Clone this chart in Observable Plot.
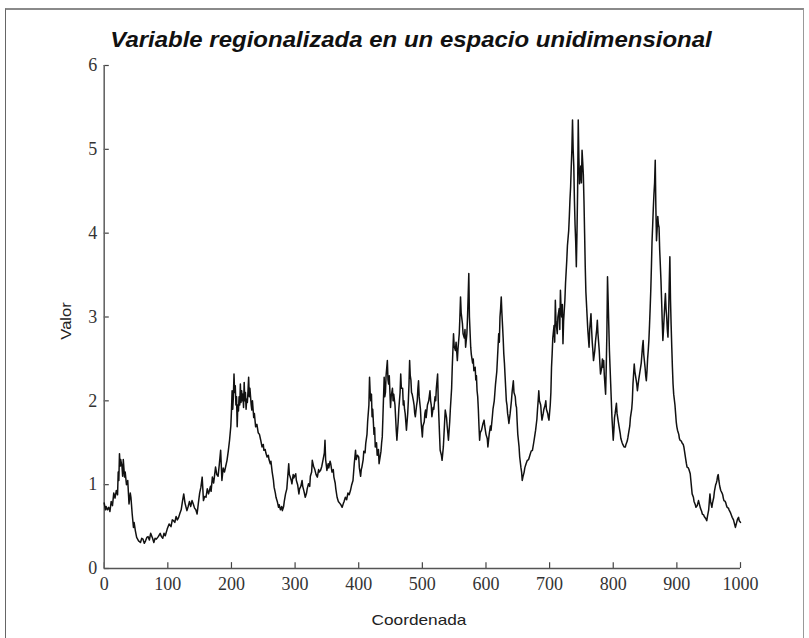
<!DOCTYPE html>
<html>
<head>
<meta charset="utf-8">
<script src="https://cdn.jsdelivr.net/npm/d3@7"></script>
<script src="https://cdn.jsdelivr.net/npm/@observablehq/plot@0.6"></script>
<style>
  html, body { margin: 0; padding: 0; background: #fff; }
  #wrap { position: relative; width: 809px; height: 638px; overflow: hidden; background: #fff; }
  #frame { position: absolute; left: 5px; top: 8px; width: 797px; height: 700px;
           border-top: 2px solid #8a8a8a; border-left: 1px solid #666; border-right: 1px solid #999; }
  #title { position: absolute; left: 0; width: 822px; top: 27px; text-align: center;
           font: italic bold 22px "Liberation Sans", Arial, sans-serif; color: #111;
           transform: scaleX(1.09); transform-origin: 411px 0; white-space: nowrap; }
  .lab { position: absolute; font: 15px "Liberation Sans", Arial, sans-serif; color: #222; white-space: nowrap; }
  #xlab { left: 419px; top: 611px; transform: translateX(-50%) scaleX(1.15); }
  #ylab { left: 65px; top: 321px; transform: translate(-50%, -50%) rotate(-90deg) scaleX(1.1); }
  #wrap svg { position: absolute; left: 0; top: 0; }
</style>
</head>
<body>
<div id="wrap">
  <div id="frame"></div>
  <div id="title">Variable regionalizada en un espacio unidimensional</div>
  <div class="lab" id="xlab">Coordenada</div>
  <div class="lab" id="ylab">Valor</div>
</div>
<script>
// [coordenada, valor] pairs
const serie = [
[0,0.78],[2,0.70],[3,0.74],[5,0.70],[7,0.73],[9,0.68],[11,0.80],[13,0.75],[15,0.90],[17,0.84],[19,0.93],[21,0.88],[22,1.15],[23,1.05],[24,1.37],[25,1.22],[26,1.30],[28,1.21],[29,1.10],[30,1.30],[32,1.09],[33,1.15],[35,1.00],[37,1.05],[39,0.77],[41,0.90],[42,0.85],[44,0.65],[46,0.49],[47,0.55],[49,0.45],[51,0.37],[54,0.33],[57,0.31],[59,0.36],[61,0.35],[63,0.30],[65,0.33],[67,0.37],[69,0.38],[71,0.34],[73,0.42],[76,0.36],[78,0.31],[80,0.36],[82,0.35],[85,0.38],[88,0.42],[90,0.38],[92,0.36],[94,0.42],[96,0.39],[99,0.47],[102,0.53],[105,0.50],[107,0.58],[109,0.57],[111,0.55],[113,0.62],[115,0.58],[117,0.61],[119,0.66],[121,0.70],[123,0.80],[125,0.89],[127,0.78],[130,0.69],[132,0.74],[134,0.80],[136,0.74],[138,0.81],[140,0.77],[142,0.72],[144,0.70],[146,0.65],[148,0.78],[150,0.90],[152,0.97],[154,1.09],[156,0.81],[158,0.86],[160,0.85],[162,0.95],[164,0.89],[167,0.98],[168,0.92],[170,1.09],[172,1.02],[173,1.08],[175,1.21],[177,1.12],[179,1.10],[181,1.25],[183,1.41],[185,1.05],[187,1.20],[189,1.15],[191,1.22],[193,1.29],[195,1.40],[197,1.53],[199,1.70],[200,1.88],[201,2.12],[202,1.90],[203,2.05],[204,2.32],[205,2.10],[206,2.18],[207,1.95],[208,2.05],[209,1.69],[210,1.95],[211,1.88],[212,2.05],[213,1.95],[214,2.20],[215,1.98],[216,2.12],[217,2.00],[218,2.08],[219,1.92],[220,2.22],[221,2.00],[222,2.10],[223,1.90],[224,2.02],[225,1.98],[226,2.12],[227,2.28],[228,2.05],[229,2.15],[230,2.05],[231,1.95],[232,1.89],[233,2.00],[234,1.90],[235,1.80],[236,1.85],[238,1.69],[240,1.72],[242,1.62],[244,1.60],[246,1.53],[248,1.45],[250,1.48],[251,1.41],[253,1.42],[254,1.38],[256,1.33],[258,1.35],[259,1.30],[261,1.25],[262,1.28],[264,1.15],[266,1.05],[267,0.97],[269,0.90],[270,0.85],[272,0.80],[274,0.73],[275,0.76],[277,0.70],[279,0.74],[280,0.69],[282,0.74],[283,0.80],[285,0.89],[287,0.95],[288,1.05],[290,1.25],[291,1.12],[292,1.10],[294,1.05],[295,1.01],[297,1.12],[298,1.08],[301,1.13],[302,1.05],[304,1.00],[306,0.89],[307,0.95],[309,0.98],[311,1.05],[312,0.98],[314,0.92],[316,0.85],[318,0.90],[319,0.95],[321,1.01],[323,0.98],[324,1.10],[326,1.15],[327,1.29],[329,1.22],[331,1.18],[333,1.12],[335,1.09],[337,1.18],[338,1.15],[340,1.17],[342,1.22],[344,1.30],[346,1.38],[347,1.53],[348,1.30],[350,1.17],[352,1.25],[353,1.20],[355,1.28],[356,1.25],[358,1.15],[360,1.18],[361,1.09],[363,1.02],[364,0.95],[366,0.85],[368,0.80],[370,0.78],[372,0.76],[374,0.73],[376,0.78],[377,0.80],[379,0.85],[381,0.82],[383,0.90],[385,0.88],[387,0.93],[389,1.00],[391,1.05],[393,1.25],[395,1.41],[396,1.30],[398,1.35],[400,1.33],[401,1.20],[403,1.10],[404,1.18],[405,1.21],[407,1.30],[408,1.40],[410,1.38],[411,1.49],[413,1.60],[414,1.75],[416,1.95],[417,2.28],[418,2.10],[419,2.00],[420,2.08],[421,1.81],[422,1.90],[424,1.60],[425,1.68],[426,1.45],[428,1.50],[429,1.35],[431,1.42],[432,1.25],[434,1.35],[435,1.40],[436,1.50],[437,1.57],[438,1.80],[440,2.28],[441,2.05],[442,2.10],[443,2.30],[445,2.48],[446,2.25],[447,2.20],[448,2.30],[450,1.92],[451,2.05],[453,2.15],[454,2.00],[455,2.08],[457,1.95],[458,1.80],[459,1.65],[460,1.53],[462,1.75],[463,1.90],[465,2.10],[466,2.32],[467,2.15],[469,2.15],[470,1.95],[471,2.00],[472,1.90],[473,1.85],[474,1.75],[475,1.65],[477,1.85],[478,2.00],[479,2.20],[480,2.48],[481,2.30],[482,2.25],[483,2.10],[484,2.08],[486,2.00],[487,1.95],[488,1.85],[489,1.81],[491,1.95],[492,2.00],[493,2.15],[494,2.24],[495,2.05],[497,1.90],[498,1.75],[500,1.57],[501,1.70],[503,1.75],[504,1.85],[505,1.89],[506,1.80],[508,1.95],[510,2.00],[512,2.12],[513,2.00],[514,1.95],[515,1.81],[517,1.92],[518,1.90],[520,2.05],[521,2.00],[522,2.15],[524,2.32],[525,2.00],[526,1.80],[527,1.60],[528,1.41],[530,1.35],[531,1.29],[533,1.45],[534,1.60],[535,1.75],[536,1.89],[538,1.80],[539,1.70],[540,1.62],[541,1.53],[543,1.75],[544,1.90],[546,2.15],[547,2.40],[548,2.60],[549,2.80],[550,2.65],[552,2.60],[553,2.70],[555,2.48],[556,2.62],[558,2.80],[559,3.00],[560,3.24],[561,3.05],[563,2.92],[564,2.80],[566,2.75],[567,2.85],[568,2.64],[570,2.80],[571,3.00],[572,3.25],[573,3.52],[574,3.00],[576,2.64],[577,2.55],[579,2.45],[580,2.50],[581,2.36],[583,2.40],[584,2.25],[585,2.30],[586,2.12],[587,2.05],[588,1.90],[589,1.70],[590,1.53],[591,1.62],[593,1.65],[595,1.72],[597,1.77],[598,1.70],[600,1.60],[602,1.55],[603,1.45],[605,1.60],[607,1.70],[608,1.65],[610,1.81],[611,1.90],[613,2.00],[614,2.10],[615,2.20],[617,2.35],[618,2.50],[619,2.65],[620,2.80],[621,2.70],[622,3.00],[623,3.10],[624,3.24],[625,3.05],[626,2.90],[627,2.75],[628,2.56],[629,2.45],[630,2.30],[631,2.15],[632,2.00],[633,1.95],[634,1.85],[635,1.80],[636,1.73],[638,1.85],[640,2.00],[641,2.10],[643,2.24],[644,2.10],[646,2.05],[647,1.95],[648,1.92],[649,1.75],[650,1.60],[652,1.45],[653,1.33],[655,1.20],[656,1.15],[657,1.05],[658,1.09],[660,1.15],[661,1.20],[663,1.25],[665,1.29],[667,1.30],[669,1.35],[671,1.40],[673,1.41],[675,1.50],[676,1.55],[677,1.60],[678,1.65],[680,1.78],[681,1.90],[682,2.00],[683,2.12],[684,2.00],[686,1.95],[687,1.85],[688,1.77],[690,1.85],[691,1.90],[693,1.95],[694,2.00],[695,1.90],[697,1.85],[698,1.80],[699,1.77],[701,1.95],[702,2.10],[703,2.40],[704,2.56],[705,2.75],[707,2.90],[708,2.70],[709,3.20],[710,2.95],[712,2.80],[713,3.00],[715,3.10],[716,2.85],[717,3.32],[718,3.10],[719,3.00],[720,3.15],[721,2.68],[722,2.95],[724,3.20],[725,3.40],[727,3.68],[728,3.85],[730,4.03],[731,4.20],[732,4.40],[733,4.55],[734,4.79],[735,5.00],[736,5.35],[737,5.00],[738,4.80],[739,4.39],[740,4.10],[741,3.90],[742,3.60],[743,4.00],[744,4.50],[745,5.35],[746,4.90],[747,4.59],[748,4.70],[749,4.80],[750,4.60],[751,4.99],[752,4.85],[753,4.70],[754,4.39],[755,4.00],[756,3.60],[757,3.30],[759,3.00],[760,2.85],[762,2.64],[763,2.85],[765,3.04],[766,2.85],[767,2.70],[768,2.60],[769,2.48],[771,2.60],[772,2.70],[774,2.85],[775,2.96],[776,2.80],[778,2.60],[779,2.45],[780,2.32],[782,2.40],[783,2.50],[784,2.40],[785,2.48],[786,2.30],[788,2.08],[789,2.40],[790,2.80],[791,3.48],[792,3.20],[793,2.90],[794,2.60],[795,2.40],[796,2.20],[797,2.00],[798,1.80],[800,1.53],[801,1.65],[802,1.80],[803,1.85],[805,1.97],[806,1.85],[808,1.75],[809,1.70],[811,1.61],[812,1.55],[814,1.50],[815,1.48],[817,1.45],[819,1.45],[820,1.48],[822,1.52],[823,1.56],[824,1.61],[826,1.70],[827,1.80],[829,1.90],[830,2.00],[831,2.20],[833,2.44],[834,2.35],[836,2.25],[837,2.20],[838,2.12],[840,2.25],[841,2.30],[842,2.35],[843,2.40],[844,2.45],[845,2.55],[846,2.65],[847,2.72],[848,2.55],[850,2.40],[851,2.30],[852,2.24],[853,2.35],[854,2.50],[855,2.60],[856,2.72],[857,2.90],[858,3.10],[859,3.32],[860,3.60],[861,3.91],[862,4.10],[863,4.30],[864,4.47],[865,4.60],[866,4.87],[867,4.30],[868,3.91],[869,4.05],[870,4.20],[871,4.10],[872,4.07],[873,3.80],[875,3.44],[876,3.20],[877,2.95],[878,2.72],[879,2.85],[880,3.00],[881,3.15],[882,3.28],[883,3.10],[884,3.00],[885,2.85],[886,2.76],[887,3.00],[888,3.40],[889,3.72],[890,3.20],[891,2.90],[892,2.64],[893,2.40],[894,2.20],[895,2.08],[897,1.95],[898,1.85],[899,1.75],[900,1.69],[901,1.65],[903,1.60],[904,1.55],[905,1.53],[907,1.52],[908,1.50],[910,1.48],[911,1.45],[912,1.40],[914,1.30],[915,1.25],[916,1.21],[918,1.20],[919,1.18],[921,1.13],[922,1.05],[924,0.89],[926,0.85],[927,0.80],[929,0.76],[930,0.73],[932,0.75],[933,0.78],[934,0.81],[936,0.75],[937,0.72],[939,0.68],[940,0.65],[942,0.64],[943,0.62],[945,0.60],[947,0.57],[948,0.62],[950,0.70],[951,0.80],[952,0.89],[953,0.80],[955,0.73],[956,0.78],[958,0.85],[959,0.92],[961,1.00],[962,1.02],[963,1.05],[964,1.10],[965,1.12],[966,1.05],[967,1.00],[968,0.96],[969,0.93],[971,0.90],[972,0.88],[973,0.84],[974,0.81],[976,0.80],[977,0.78],[978,0.75],[979,0.73],[981,0.72],[982,0.70],[984,0.67],[985,0.65],[986,0.63],[987,0.61],[989,0.58],[990,0.55],[991,0.52],[992,0.49],[994,0.55],[995,0.58],[996,0.60],[997,0.61],[998,0.57],[1000,0.55]
];
const xTicks = [0,100,200,300,400,500,600,700,800,900,1000];
const yTicks = [0,1,2,3,4,5,6];

const data = serie.map(([c, v]) => ({c, v}));

const chart = Plot.plot({
  width: 809,
  height: 638,
  marginLeft: 103.7,
  marginRight: 69,
  marginTop: 65,
  marginBottom: 70,
  style: {background: "transparent", overflow: "visible"},
  x: {domain: [0, 1000]},
  y: {domain: [0, 6]},
  marks: [
    Plot.axisX({ticks: xTicks, tickSize: 0, tickPadding: 9, fontSize: 18, fontFamily: "Liberation Serif, Times New Roman, serif", fill: "#333", label: null, tickFormat: d => String(d)}),
    Plot.axisY({ticks: yTicks, tickSize: 0, tickPadding: 7, fontSize: 18, fontFamily: "Liberation Serif, Times New Roman, serif", fill: "#333", label: null, tickFormat: d => String(d)}),
    Plot.ruleX(xTicks, {x: d => d, y1: 0, y2: 0.07, stroke: "#444", strokeWidth: 1.2}),
    Plot.ruleY(yTicks, {y: d => d, x1: 0, x2: 8, stroke: "#444", strokeWidth: 1.2}),
    Plot.ruleX([0], {y1: 0, y2: 6, stroke: "#666", strokeWidth: 1.6}),
    Plot.ruleY([0], {x1: 0, x2: 1000, stroke: "#555", strokeWidth: 1.4}),
    Plot.line(data, {x: "c", y: "v", stroke: "#111", strokeWidth: 1.5})
  ]
});
document.getElementById("wrap").appendChild(chart);
</script>
</body>
</html>
